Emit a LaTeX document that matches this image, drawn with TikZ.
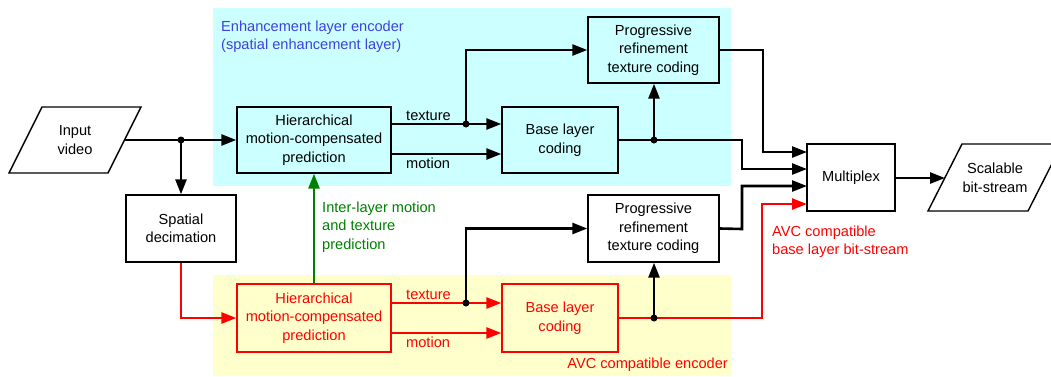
\documentclass[tikz,border=0pt]{standalone}
\usepackage{fontspec}
\setmainfont{Liberation Sans}
\usetikzlibrary{arrows.meta}
\definecolor{bgcyan}{RGB}{204,255,255}
\definecolor{bgyellow}{RGB}{255,255,204}
\definecolor{encblue}{RGB}{64,64,224}
\definecolor{avcred}{RGB}{255,0,0}
\definecolor{ilgreen}{RGB}{0,128,0}
\tikzset{
  txt/.style={font=\fontsize{14.6}{18.5}\selectfont, inner sep=0pt},
  box/.style={txt, draw=black, line width=1.4pt, align=center, fill=white, minimum height=66pt},
  ebox/.style={box, fill=bgcyan},
  rbox/.style={box, draw=avcred, text=avcred, fill=bgyellow},
  arr/.style={line width=2.6pt, -{Triangle[length=15pt,width=11pt]}},
  dot/.style={circle, fill=black, inner sep=0pt, minimum size=7pt},
  para/.style={line width=1.4pt, fill=white},
}
\begin{document}
\begin{tikzpicture}[x=1pt,y=-1pt]
\useasboundingbox (0,0) rectangle (1051,376);
% backgrounds
\fill[bgcyan] (213,8) rectangle (731,186);
\fill[bgyellow] (213,275) rectangle (731,376);
% labels of regions
\node[txt, text=encblue, anchor=west, align=left] (enclab) at (221,36.5) {Enhancement layer encoder\\(spatial enhancement layer)};
\node[txt, text=avcred, anchor=east] (avclab) at (728,365) {AVC compatible encoder};
% input parallelogram
\draw[para] (42,107) -- (141,107) -- (108,173) -- (9,173) -- cycle;
\node[txt, align=center] (in) at (75,140) {Input\\video};
\coordinate (inR) at (124.5,140);
% output parallelogram
\draw[para] (962,144) -- (1062,144) -- (1028,211) -- (928,211) -- cycle;
\node[txt, align=center] (out) at (995,178) {Scalable\\bit-stream};
\coordinate (outL) at (945,178);
% boxes
\node[ebox, minimum width=154pt] (hmc1) at (314,140) {Hierarchical\\motion-compensated\\prediction};
\node[ebox, minimum width=116pt] (base1) at (560,140) {Base layer\\coding};
\node[ebox, minimum width=131pt] (prog1) at (653.5,50) {Progressive\\refinement\\texture coding};
\node[box, minimum width=88pt, minimum height=67pt] (mux) at (851,177.5) {Multiplex};
\node[box, minimum width=110pt, minimum height=67pt] (spat) at (181,228.5) {Spatial\\decimation};
\node[rbox, minimum width=154pt, minimum height=68pt] (hmc2) at (314,318) {Hierarchical\\motion-compensated\\prediction};
\node[rbox, minimum width=116pt, minimum height=68pt] (base2) at (560,318) {Base layer\\coding};
\node[box, minimum width=131pt, minimum height=67pt] (prog2) at (653.5,228.5) {Progressive\\refinement\\texture coding};
% coordinates
\coordinate (j1) at (181,140);
\coordinate (t1) at (466,124);
\coordinate (m1) at (466,154);
\coordinate (t2) at (466,303);
\coordinate (m2) at (466,333);
\coordinate (jb1) at (654,140);
\coordinate (jb2) at (654,318);
\coordinate (k0) at (763,50);
\coordinate (k1) at (742,140);
\coordinate (k2) at (742,229);
\coordinate (k3) at (762,318);
\coordinate (mi1) at (807,152);
\coordinate (mi2) at (807,169);
\coordinate (mi3) at (807,186);
\coordinate (mi4) at (807,204);
% enhancement layer connectors
\draw[arr] (inR) -- (hmc1.west);
\draw[arr] (j1) -- (spat.north);
\draw[arr] (t1 -| hmc1.east) -- (t1 -| base1.west);
\draw[arr] (m1 -| hmc1.east) -- (m1 -| base1.west);
\draw[arr] (t1) |- (prog1.west);
\draw[arr] (base1.east) -- (k1) |- (mi2);
\draw[arr] (jb1) -- (jb1 |- prog1.south);
\draw[arr] (prog1.east) -- (k0) |- (mi1);
\node[txt, anchor=west] (tex1) at (406,116) {texture};
\node[txt, anchor=west] (mot1) at (406,163) {motion};
% base layer connectors
\draw[arr, avcred] (spat.south) |- (hmc2.west);
\draw[arr, avcred] (t2 -| hmc2.east) -- (t2 -| base2.west);
\draw[arr, avcred] (m2 -| hmc2.east) -- (m2 -| base2.west);
\draw[arr] (t2) |- (prog2.west);
\draw[arr, avcred] (base2.east) -- (k3) |- (mi4);
\draw[arr] (jb2) -- (jb2 |- prog2.south);
\draw[arr] (prog2.east) -- (k2) |- (mi3);
\node[txt, anchor=west, text=avcred] (tex2) at (406,295) {texture};
\node[txt, anchor=west, text=avcred] (mot2) at (406,342) {motion};
% inter-layer
\draw[arr, ilgreen] (hmc2.north) -- (hmc1.south);
\node[txt, anchor=west, align=left, text=ilgreen] (illab) at (322,227) {Inter-layer motion\\and texture\\prediction};
\node[txt, anchor=west, align=left, text=avcred] (bslab) at (772,241.5) {AVC compatible\\base layer bit-stream};
% output
\draw[arr] (mux.east |- outL) -- (outL);
% junction dots
\node[dot] (d1) at (j1) {};
\node[dot] (d2) at (t1) {};
\node[dot] (d3) at (jb1) {};
\node[dot] (d4) at (t2) {};
\node[dot] (d5) at (jb2) {};
\end{tikzpicture}
\end{document}
